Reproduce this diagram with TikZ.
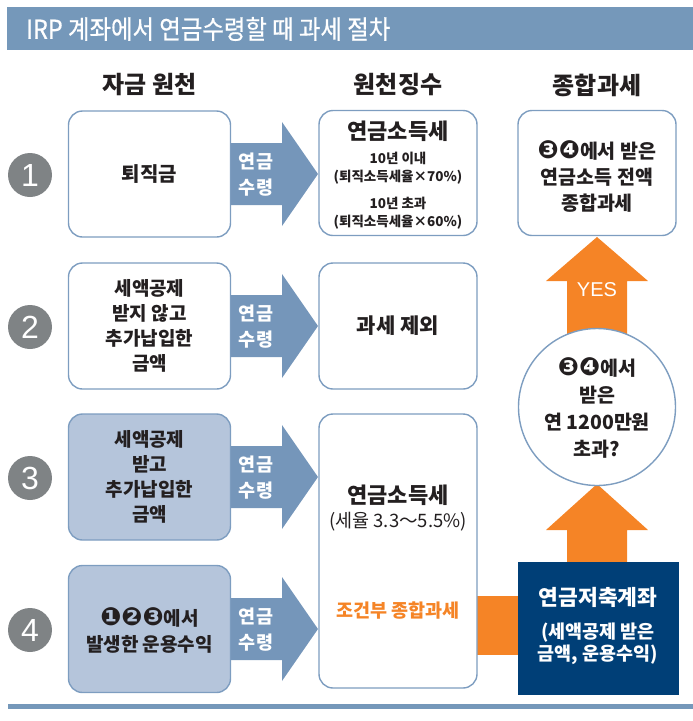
\documentclass[tikz,border=0pt]{standalone}
\usepackage{fontspec}
\setmainfont{Noto Sans CJK KR}
\newfontfamily\krc{Noto Sans CJK KR}[FakeStretch=0.9,FakeBold=0.6]
\newfontfamily\dv{DejaVu Sans}
\newfontfamily\lsans{Liberation Sans}
\definecolor{barblue}{HTML}{7598BA}
\definecolor{boxline}{HTML}{7D9DC0}
\definecolor{arrblue}{HTML}{7596BA}
\definecolor{lightfill}{HTML}{B5C5DB}
\definecolor{orng}{HTML}{F58426}
\definecolor{navy}{HTML}{003F77}
\definecolor{numgray}{HTML}{7F8385}
\definecolor{txt}{HTML}{231F20}
\newcommand{\cdig}[1]{{\dv\fontsize{25}{20}\selectfont #1}}
\begin{document}
\begin{tikzpicture}[x=1pt,y=-1pt,
  box/.style={draw=boxline, line width=1.4pt, rounded corners=14pt, fill=white, inner sep=0pt},
  lbox/.style={box, fill=lightfill},
  num/.style={circle, fill=numgray, minimum size=44pt, inner sep=0pt, text=white, font=\lsans\fontsize{32}{32}\selectfont},
  head/.style={font=\bfseries\fontsize{24}{28}\selectfont, text=txt},
  btxt/.style={align=center, text=txt, font=\bfseries\fontsize{19}{25}\selectfont},
  atxt/.style={align=center, text=white, font=\bfseries\fontsize{18.5}{26}\selectfont},
  stxt/.style={align=center, text=txt, font=\bfseries\fontsize{13.5}{18}\selectfont}]
\useasboundingbox (0,0) rectangle (693,721);
% title bar
\fill[barblue] (7,7) rectangle (693,50);
\node[anchor=west, text=white, font=\krc\fontsize{26}{28}\selectfont, inner sep=0pt] (title) at (26,29) {IRP 계좌에서 연금수령할 때 과세 절차};
% headers
\node[head] (h1) at (149.5,85) {자금 원천};
\node[head] (h2) at (398,85) {원천징수};
\node[head] (h3) at (597,85) {종합과세};
% number circles
\node[num] (n1) at (30,175) {1};
\node[num] (n2) at (30,327) {2};
\node[num] (n3) at (30,478) {3};
\node[num] (n4) at (30,630) {4};
% blue arrows
\foreach \cy/\nm in {174/a1,326/a2,477/a3,629/a4}{
  \fill[arrblue] (230,\cy-31) -- (282,\cy-31) -- (282,\cy-52) -- (318,\cy) -- (282,\cy+52) -- (282,\cy+31) -- (230,\cy+31) -- cycle;
  \node[atxt] (\nm) at (256,\cy+1) {연금\\수령};
}
% left boxes
\node[box, minimum width=162pt, minimum height=126pt] (s1) at (149.5,174) {};
\node[btxt, font=\bfseries\fontsize{20}{25}\selectfont] at (s1) {퇴직금};
\node[box, minimum width=162pt, minimum height=126pt] (s2) at (149.5,326) {};
\node[btxt] at (s2) {세액공제\\받지 않고\\추가납입한\\금액};
\node[lbox, minimum width=162pt, minimum height=126pt] (s3) at (149.5,477) {};
\node[btxt] at (s3) {세액공제\\받고\\추가납입한\\금액};
\node[lbox, minimum width=162pt, minimum height=127pt] (s4) at (149.5,629) {};
\node[btxt, font=\bfseries\fontsize{19}{26}\selectfont] at (149.5,630) {\cdig{❶❷❸}에서\\발생한 운용수익};
% middle boxes
\node[box, minimum width=158pt, minimum height=125pt] (m1) at (398,173) {};
\node[btxt, font=\bfseries\fontsize{22}{24}\selectfont] (m1t) at (398,131) {연금소득세};
\node[stxt] (m1a) at (398,168) {10년 이내\\(퇴직소득세율×70\%)};
\node[stxt] (m1b) at (398,213) {10년 초과\\(퇴직소득세율×60\%)};
\node[box, minimum width=158pt, minimum height=126pt] (m2) at (398,326) {};
\node[btxt, font=\bfseries\fontsize{21}{24}\selectfont] at (m2) {과세 제외};
% orange horizontal bar (behind big box edge)
\fill[orng] (477,596) rectangle (519,655);
\node[box, minimum width=158pt, minimum height=274pt] (m3) at (398,551) {};
\node[btxt, font=\bfseries\fontsize{22}{24}\selectfont] (m3t) at (398,495) {연금소득세};
\node[btxt, font=\fontsize{18.5}{20}\selectfont] (m3a) at (398,522) {(세율 3.3～5.5\%)};
\node[btxt, text=orng, font=\bfseries\fontsize{18.5}{20}\selectfont] (m3b) at (398,611) {조건부 종합과세};
% orange up arrows
\fill[orng] (567,345) -- (567,281) -- (546,281) -- (597,237) -- (648,281) -- (627,281) -- (627,345) -- cycle;
\node[text=white, font=\lsans\fontsize{20}{20}\selectfont] (yes) at (597,290) {YES};
\fill[orng] (567,565) -- (567,530) -- (546,530) -- (597,484) -- (648,530) -- (627,530) -- (627,565) -- cycle;
% right box
\node[box, minimum width=158pt, minimum height=125pt] (r1) at (597,173) {};
\node[btxt, font=\bfseries\fontsize{19.5}{26}\selectfont] at (597,176) {\cdig{❸❹}에서 받은\\연금소득 전액\\종합과세};
% decision circle
\node[circle, draw=boxline, line width=1.4pt, fill=white, minimum size=157pt, inner sep=0pt] (dc) at (597,407) {};
\node[btxt, font=\bfseries\fontsize{19.5}{27}\selectfont] at (597,408) {\cdig{❸❹}에서\\받은\\연 1200만원\\초과?};
% navy box
\node[fill=navy, minimum width=161pt, minimum height=133pt, inner sep=0pt] (nv) at (598,628) {};
\node[align=center, text=white, font=\bfseries\fontsize{21.5}{24}\selectfont] (nvt) at (598,597) {연금저축계좌};
\node[align=center, text=white, font=\bfseries\fontsize{18.5}{22}\selectfont] (nvs) at (598,644) {(세액공제 받은\\금액, 운용수익)};
% bottom rule
\fill[barblue] (8,704) rectangle (693,709);
\end{tikzpicture}
\end{document}
